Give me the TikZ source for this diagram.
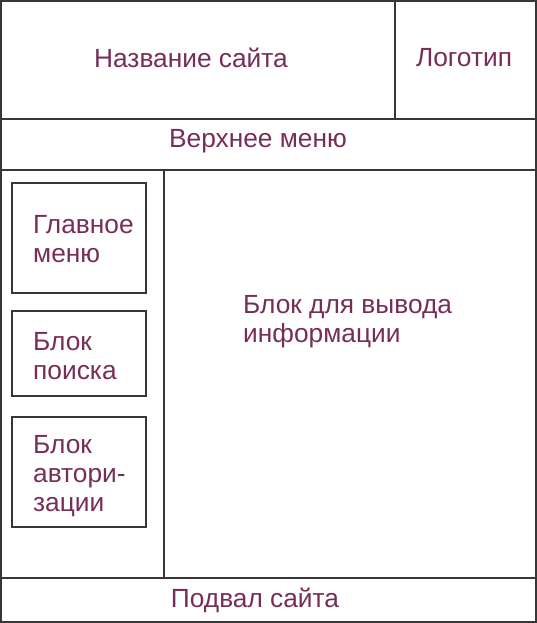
\documentclass[tikz,border=0pt]{standalone}
\usepackage{fontspec}
\setmainfont{Liberation Sans}
\definecolor{txt}{RGB}{118,46,88}
\definecolor{ln}{RGB}{55,55,55}
\begin{document}
\begin{tikzpicture}[x=1pt,y=-1pt,
  frame/.style={draw=ln,line width=1.3pt},
  lbl/.style={text=txt,font=\fontsize{26.3}{29}\selectfont,inner sep=0pt},
  llbl/.style={lbl,anchor=west,align=left}]
\useasboundingbox (0,0) rectangle (537,623);
% outer frame and dividers
\draw[frame] (1,1) rectangle (536,622);
\draw[frame] (1,119) -- (536,119);
\draw[frame] (395,1) -- (395,119);
\draw[frame] (1,170) -- (536,170);
\draw[frame] (164,170) -- (164,578);
\draw[frame] (1,578) -- (536,578);
% left boxes
\draw[frame] (12,183) rectangle (146,293);
\draw[frame] (12,311) rectangle (146,396);
\draw[frame] (12,417) rectangle (146,527);
% texts
\node[lbl] (name) at (191,58) {Название сайта};
\node[lbl] (logo) at (464,58) {Логотип};
\node[lbl] (topmenu) at (258,141) {Верхнее меню};
\node[llbl] (info) at (243,322) {Блок для вывода\\информации};
\node[llbl] (mainmenu) at (33,239) {Главное\\меню};
\node[llbl] (search) at (33,356) {Блок\\поиска};
\node[llbl] (auth) at (33,476) {Блок\\автори-\\зации};
\node[lbl] (footer) at (255,600) {Подвал сайта};
\end{tikzpicture}
\end{document}
